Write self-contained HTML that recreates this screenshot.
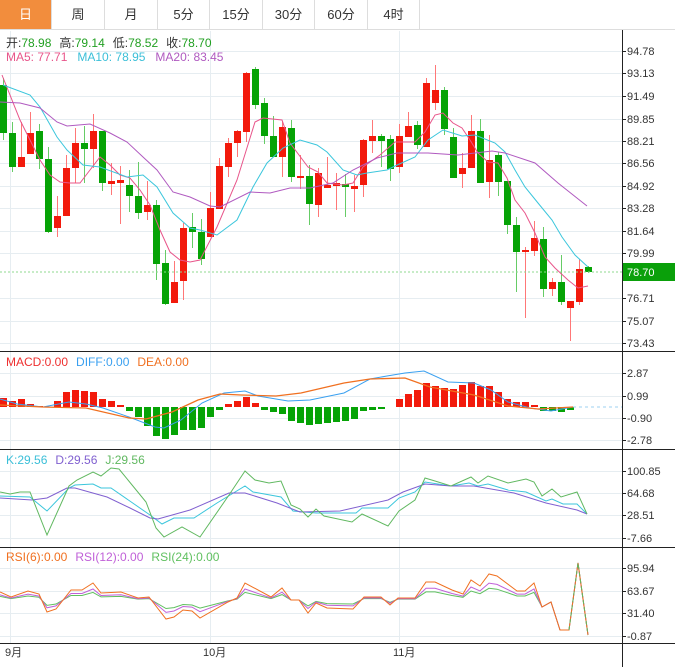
<!DOCTYPE html>
<html><head><meta charset="utf-8"><style>
body{margin:0;background:#fff;width:675px;height:667px;overflow:hidden;font-family:"Liberation Sans","Noto Sans CJK SC",sans-serif}
.tabs{position:absolute;left:0;top:0;height:29px;width:675px;border-bottom:1px solid #ddd}
.tab{position:absolute;top:0;height:29px;line-height:29px;text-align:center;font-size:13px;color:#333;border-right:1px solid #ddd;box-sizing:border-box}
svg{position:absolute;left:0;top:0}
svg text{font-family:"Liberation Sans","Noto Sans CJK SC",sans-serif}
</style></head><body>
<div class="tabs">
<div class="tab" style="left:0;width:52px;background:#f28d3d;color:#fff">日</div>
<div class="tab" style="left:52px;width:53px">周</div>
<div class="tab" style="left:105px;width:53px">月</div>
<div class="tab" style="left:158px;width:52px">5分</div>
<div class="tab" style="left:210px;width:53px">15分</div>
<div class="tab" style="left:263px;width:52px">30分</div>
<div class="tab" style="left:315px;width:53px">60分</div>
<div class="tab" style="left:368px;width:52px">4时</div>
</div>
<svg id="s" width="675" height="667" viewBox="0 0 675 667">
<g id="grid" stroke="#e6edf1" stroke-width="1"></g>
<g id="draw"></g>
<g font-size="11" fill="#333">
<text x="627" y="55">94.78</text><text x="627" y="77">93.13</text><text x="627" y="100">91.49</text><text x="627" y="123">89.85</text><text x="627" y="145">88.21</text><text x="627" y="167">86.56</text><text x="627" y="190">84.92</text><text x="627" y="212">83.28</text><text x="627" y="235">81.64</text><text x="627" y="257">79.99</text><text x="627" y="302">76.71</text><text x="627" y="325">75.07</text><text x="627" y="347">73.43</text>
<text x="627" y="377">2.87</text><text x="627" y="400">0.99</text><text x="627" y="422">-0.90</text><text x="627" y="444">-2.78</text>
<text x="627" y="475">100.85</text><text x="627" y="497">64.68</text><text x="627" y="519">28.51</text><text x="627" y="542">-7.66</text>
<text x="627" y="572">95.94</text><text x="627" y="595">63.67</text><text x="627" y="617">31.40</text><text x="627" y="640">-0.87</text>
<text x="5" y="656">9月</text><text x="203" y="656">10月</text><text x="393" y="656">11月</text>
</g>
<rect x="623" y="263" width="52" height="18" fill="#0aa00a"/>
<text x="627" y="276" font-size="11" fill="#fff">78.70</text>
<g font-size="12">
<text x="6" y="47"><tspan fill="#333">开:</tspan><tspan fill="#22a022">78.98</tspan><tspan fill="#333" dx="8">高:</tspan><tspan fill="#22a022">79.14</tspan><tspan fill="#333" dx="8">低:</tspan><tspan fill="#22a022">78.52</tspan><tspan fill="#333" dx="8">收:</tspan><tspan fill="#22a022">78.70</tspan></text>
<text x="6" y="61"><tspan fill="#e8558a">MA5: 77.71</tspan><tspan fill="#3bbfd8" dx="10">MA10: 78.95</tspan><tspan fill="#b05ac0" dx="10">MA20: 83.45</tspan></text>
<text x="6" y="366"><tspan fill="#ee3030">MACD:0.00</tspan><tspan fill="#3aa0f0" dx="8">DIFF:0.00</tspan><tspan fill="#f07020" dx="8">DEA:0.00</tspan></text>
<text x="6" y="464"><tspan fill="#3bbfd8">K:29.56</tspan><tspan fill="#8060d0" dx="8">D:29.56</tspan><tspan fill="#60b860" dx="8">J:29.56</tspan></text>
<text x="6" y="561"><tspan fill="#f07020">RSI(6):0.00</tspan><tspan fill="#c060d8" dx="8">RSI(12):0.00</tspan><tspan fill="#60c060" dx="8">RSI(24):0.00</tspan></text>
</g>
</svg>
<script>
var NS="http://www.w3.org/2000/svg",g=document.getElementById('draw'),gr=document.getElementById('grid');
function el(p,t,a){var e=document.createElementNS(NS,t);for(var k in a)e.setAttribute(k,a[k]);p.appendChild(e);return e;}
[51,73,96,119,141,163,186,208,231,253,298,321,343,373,396,418,440,471,493,515,538,568,591,613,636].forEach(function(y){el(gr,'line',{x1:0,x2:622,y1:y+.5,y2:y+.5});});
[10,210,399].forEach(function(x){el(gr,'line',{x1:x+.5,x2:x+.5,y1:31,y2:643});});
var C=[['g',85,133,78,140],['g',133,167,122,172],['r',157,167,122,167],['r',133,154,112,154],['g',131,159,124,169],['g',159,232,147,233],['r',216,228,196,237],['r',168,216,155,216],['r',143,168,128,183],['g',143,149,126,183],['r',131,149,114,168],['g',131,183,131,191],['r',181,184,163,195],['r',180,183,166,224],['g',185,196,170,212],['g',196,213,162,219],['r',205,212,181,220],['g',205,264,200,280],['g',263,304,250,305],['r',282,303,261,300],['r',228,281,223,300],['g',227,232,213,248],['g',232,259,219,265],['r',208,237,192,237],['r',166,209,158,209],['r',143,167,138,177],['r',131,143,130,157],['r',73,132,72,142],['g',69,105,67,109],['g',103,136,98,144],['g',136,157,116,157],['r',127,157,121,177],['g',128,177,120,182],['r',176,178,155,189],['g',176,204,165,225],['r',173,205,168,217],['r',185,188,157,188],['r',183,186,173,210],['g',184,187,174,217],['r',186,189,175,212],['r',140,185,139,197],['r',136,141,120,153],['g',136,141,134,167],['g',139,169,135,181],['r',136,167,124,173],['r',126,137,112,137],['g',125,145,121,149],['r',83,147,78,147],['r',90,103,65,110],['g',90,129,87,135],['g',137,178,128,178],['r',168,174,153,188],['r',131,168,115,168],['g',131,183,119,183],['r',160,182,135,198],['g',155,182,152,196],['g',181,225,181,234],['g',225,252,217,292],['r',250,251,247,318],['r',238,251,221,256],['g',239,289,227,297],['r',282,289,278,296],['g',282,302,255,305],['r',301,308,301,341],['r',269,302,259,305],['g',267,272,266,273]];
C.forEach(function(c,i){var x=3+9*i,red=c[0]=='r';
el(g,'line',{x1:x+.5,x2:x+.5,y1:c[3],y2:c[4],stroke:red?'#f77':'#6c6','stroke-width':1});
el(g,'rect',{x:x-3,y:c[1],width:7,height:Math.max(2,c[2]-c[1]),fill:red?'#f21a0c':'#06a306'});});
function pl(pts,col,w,extra){var a={points:pts.map(function(p){return p.join(',')}).join(' '),fill:'none',stroke:col,'stroke-width':w||1};for(var k in extra)a[k]=extra[k];el(g,'polyline',a);}
pl([[2,75],[20,120],[30,140],[40,160],[50,175],[60,182],[70,183],[80,183],[90,170],[100,157],[110,165],[120,175],[130,178],[140,190],[150,205],[160,230],[170,252],[180,260],[190,262],[200,260],[217,227],[237,180],[255,122],[263,118],[282,120],[290,143],[308,167],[318,172],[327,183],[343,185],[353,183],[363,167],[380,155],[395,142],[415,142],[425,132],[435,115],[443,113],[453,123],[462,128],[470,140],[478,153],[488,162],[498,163],[507,178],[515,200],[525,213],[535,233],[545,257],[555,268],[568,280],[578,288],[588,286]],'#e8558a');
pl([[3,85],[30,95],[40,107],[57,137],[67,150],[83,165],[100,167],[127,177],[143,175],[157,187],[173,213],[190,228],[200,230],[217,235],[237,220],[253,187],[267,163],[283,148],[300,140],[317,145],[327,152],[343,170],[357,175],[367,173],[387,170],[395,166],[415,157],[428,140],[443,130],[462,136],[475,135],[495,143],[505,152],[515,170],[525,187],[538,203],[552,220],[562,237],[575,255],[588,267]],'#3bc6dc');
pl([[0,102],[20,103],[40,108],[57,122],[67,126],[90,124],[110,133],[127,142],[143,157],[157,170],[173,192],[190,197],[210,206],[220,207],[250,192],[270,193],[290,188],[310,188],[333,183],[353,170],[377,158],[397,153],[428,153],[458,155],[492,151],[505,153],[535,163],[558,183],[587,206]],'#b05ac0');
el(g,'line',{x1:0,x2:622,y1:272,y2:272,stroke:'#8fd88f','stroke-dasharray':'2,2'});
var H=[9,6,8,3,1,0,6,15,17,16,15,8,6,2,-4,-10,-19,-29,-32,-28,-23,-23,-21,-10,-3,3,6,10,4,-3,-5,-7,-14,-16,-18,-17,-16,-15,-14,-12,-4,-3,-2,0,8,13,17,24,21,19,18,22,25,21,21,15,8,5,5,2,-4,-4,-5,-3,0];
H.forEach(function(h,i){var x=3+9*i;if(h==0)return;el(g,'rect',{x:x-3,y:h>0?407-h:407,width:7,height:Math.abs(h),fill:h>0?'#f21a0c':'#06a306'});});
pl([[0,399],[17,404],[43,407],[69,402],[86,404],[103,408],[129,417],[155,427],[164,428],[181,420],[202,403],[224,393],[245,391],[258,396],[288,401],[310,400],[344,393],[370,379],[387,376],[405,373],[424,371],[448,382],[474,383],[491,390],[508,402],[530,408],[551,411],[573,407]],'#3aa0f0');
pl([[0,405],[43,407],[86,408],[129,418],[146,419],[172,412],[198,400],[220,394],[241,395],[276,396],[301,393],[344,383],[370,379],[405,378],[430,387],[474,395],[508,406],[538,409],[573,407]],'#f07020',1.3);
el(g,'line',{x1:573,x2:622,y1:407,y2:407,stroke:'#9cd0f0','stroke-dasharray':'3,3'});
pl([[0,496],[30,497],[47,511],[69,488],[75,485],[93,484],[101,488],[111,488],[150,515],[162,524],[174,518],[194,518],[217,503],[245,486],[253,492],[281,497],[293,511],[316,513],[356,513],[362,508],[388,508],[399,498],[415,492],[425,482],[451,486],[469,483],[478,486],[488,484],[508,490],[526,492],[546,501],[552,499],[563,504],[577,504],[587,514]],'#3bc6dc');
pl([[0,498],[32,500],[47,498],[67,488],[75,488],[107,497],[130,508],[150,518],[158,519],[190,510],[229,493],[245,493],[277,503],[300,512],[340,511],[388,500],[403,492],[425,484],[451,486],[474,486],[514,493],[546,503],[577,510],[587,514]],'#8060d0');
pl([[0,492],[10,494],[20,492],[30,492],[47,535],[69,486],[77,480],[93,472],[101,476],[111,468],[119,469],[146,502],[156,528],[164,537],[182,527],[200,537],[229,495],[245,471],[255,480],[269,483],[281,481],[291,505],[300,509],[308,517],[316,509],[324,516],[352,522],[362,514],[388,526],[399,511],[415,500],[425,478],[435,481],[451,486],[471,477],[478,483],[488,476],[508,483],[526,479],[534,482],[542,496],[552,489],[561,497],[577,492],[587,514]],'#60b860');
var R=[[0,592],[11,597],[28,591],[39,594],[47,612],[56,609],[71,590],[82,590],[93,583],[101,593],[121,592],[138,598],[149,597],[166,619],[174,617],[183,610],[192,611],[200,618],[228,602],[237,598],[245,583],[271,597],[282,588],[291,600],[299,600],[308,613],[316,603],[327,608],[353,609],[364,597],[381,597],[390,605],[398,598],[415,598],[426,582],[435,582],[452,590],[463,594],[471,580],[480,586],[489,574],[497,576],[517,591],[525,591],[534,583],[542,607],[551,602],[560,630],[569,630],[578,563],[588,635]];
function sc(f){return R.map(function(p){return p[0]>=542?p:[p[0],(600+(p[1]-600)*f).toFixed(1)];});}
pl(sc(0.45),'#60c060');pl(sc(0.65),'#c060d8');pl(R,'#f07020');
pl(R.filter(function(p){return p[0]>=569;}),'#60b860',1,{'stroke-dasharray':'4,3'});
[351,449,547,643].forEach(function(y){el(g,'line',{x1:0,x2:675,y1:y+.5,y2:y+.5,stroke:'#222'});});
el(g,'line',{x1:622.5,x2:622.5,y1:30,y2:667,stroke:'#222'});
[51,73,96,119,141,163,186,208,231,253,298,321,343,373,396,418,440,471,493,515,538,568,591,613,636].forEach(function(y){el(g,'line',{x1:622,x2:626,y1:y+.5,y2:y+.5,stroke:'#222'});});
</script>
</body></html>
